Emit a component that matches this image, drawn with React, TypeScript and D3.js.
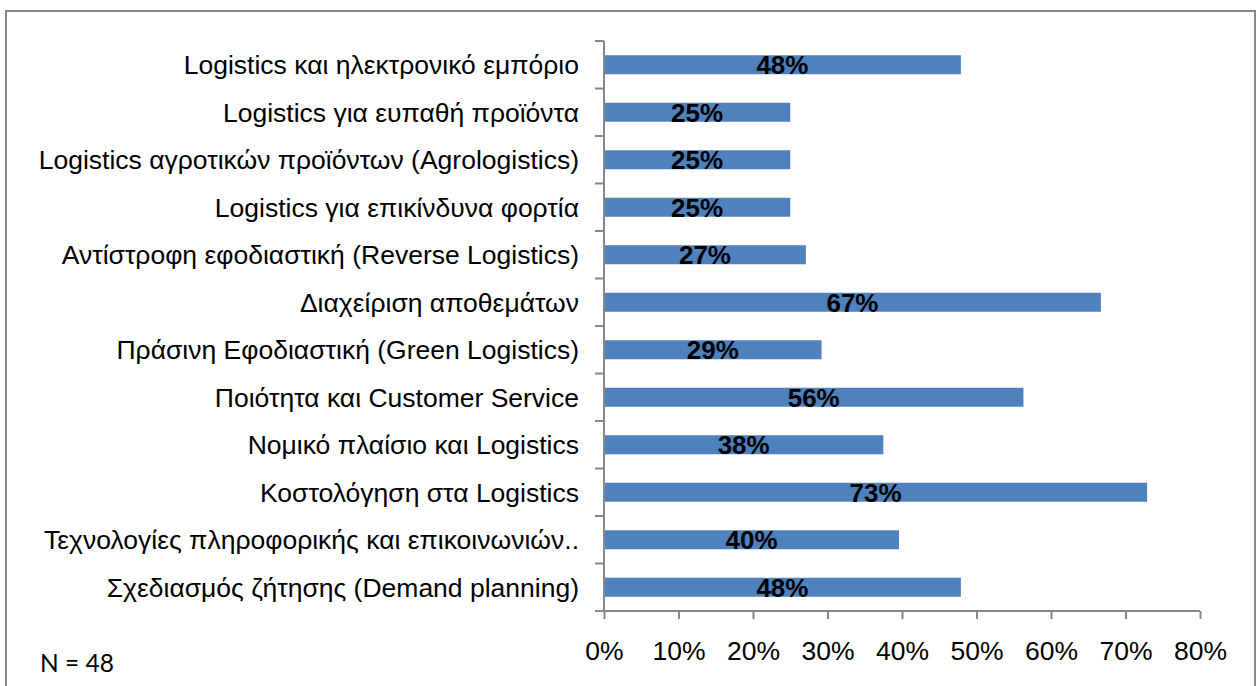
import React, { useRef, useEffect } from "react";
import * as d3 from "d3";

const categories = [
  "Logistics και ηλεκτρονικό εμπόριο",
  "Logistics για ευπαθή προϊόντα",
  "Logistics αγροτικών προϊόντων (Agrologistics)",
  "Logistics για επικίνδυνα φορτία",
  "Αντίστροφη εφοδιαστική (Reverse Logistics)",
  "Διαχείριση αποθεμάτων",
  "Πράσινη Εφοδιαστική (Green Logistics)",
  "Ποιότητα και Customer Service",
  "Νομικό πλαίσιο και Logistics",
  "Κοστολόγηση στα Logistics",
  "Τεχνολογίες πληροφορικής και επικοινωνιών..",
  "Σχεδιασμός ζήτησης (Demand planning)",
];
const values = [47.9, 25, 25, 25, 27.1, 66.7, 29.2, 56.3, 37.5, 72.9, 39.6, 47.9];
const xTicks = [0, 10, 20, 30, 40, 50, 60, 70, 80];
const note = "N = 48";

const W = 1258;
const H = 686;
const font = "'Liberation Sans', Arial, sans-serif";

const App = () => {
  const ref = useRef<SVGSVGElement>(null);

  useEffect(() => {
    const svg = d3.select(ref.current);
    svg.selectAll("*").remove();

    const x = d3.scaleLinear().domain([0, 80]).range([604, 1200]);
    const y = d3.scaleBand().domain(categories).range([41, 611]).paddingInner(0.6).paddingOuter(0.3);

    // frame
    svg.append("rect")
      .attr("x", 6).attr("y", 11)
      .attr("width", 1249).attr("height", 690)
      .style("fill", "white")
      .style("stroke", "#878787")
      .style("stroke-width", 2);

    // bars
    svg.append("g")
      .selectAll("rect")
      .data(values)
      .enter()
      .append("rect")
      .attr("x", x(0))
      .attr("y", (d, i) => y(categories[i])!)
      .attr("width", d => x(d) - x(0))
      .attr("height", y.bandwidth())
      .style("fill", "#4F81BD");

    // value labels
    svg.append("g")
      .selectAll("text")
      .data(values)
      .enter()
      .append("text")
      .attr("x", d => (x(0) + x(d)) / 2)
      .attr("y", (d, i) => y(categories[i])! + y.bandwidth() / 2 + 9.5)
      .attr("text-anchor", "middle")
      .style("font-family", font)
      .style("font-weight", "bold")
      .style("font-size", "26px")
      .text(d => `${Math.round(d)}%`);

    // y axis line and separators
    const yAxis = svg.append("g").attr("transform", `translate(${x(0)},0)`);
    yAxis.append("line")
      .attr("x1", 0).attr("x2", 0).attr("y1", 41).attr("y2", 611)
      .style("stroke", "#878787").style("stroke-width", 2);
    yAxis.selectAll("line.sep")
      .data(d3.range(categories.length + 1))
      .enter()
      .append("line")
      .attr("class", "sep")
      .attr("x1", -9).attr("x2", 0)
      .attr("y1", i => 41 + i * y.step())
      .attr("y2", i => 41 + i * y.step())
      .style("stroke", "#878787").style("stroke-width", 2);

    // category labels
    svg.append("g")
      .selectAll("text")
      .data(categories)
      .enter()
      .append("text")
      .attr("x", 579)
      .attr("y", d => y(d)! + y.bandwidth() / 2 + 9.5)
      .attr("text-anchor", "end")
      .style("font-family", font)
      .style("font-size", "26.5px")
      .text(d => d);

    // x axis
    const xAxis = svg.append("g")
      .attr("transform", "translate(0,611)")
      .call(d3.axisBottom(x).tickValues(xTicks).tickSize(8).tickFormat(d => `${d}%`));
    xAxis.select(".domain")
      .attr("d", `M${x(0)},0H${x(80)}`)
      .style("stroke", "#878787").style("stroke-width", 2);
    xAxis.selectAll(".tick line").style("stroke", "#878787").style("stroke-width", 2);
    xAxis.selectAll(".tick text")
      .attr("y", 49)
      .attr("dy", "0")
      .style("font-family", font)
      .style("font-size", "26.5px")
      .style("fill", "black");

    svg.append("text")
      .attr("x", 40).attr("y", 672)
      .style("font-family", "Lato, 'Open Sans', sans-serif")
      .style("font-size", "24.5px")
      .text(note);
  }, []);

  return (
    <div style={{ position: "absolute", left: 0, top: 0 }}>
      <svg ref={ref} width={W} height={H} style={{ display: "block" }}></svg>
    </div>
  );
};

export default App;
